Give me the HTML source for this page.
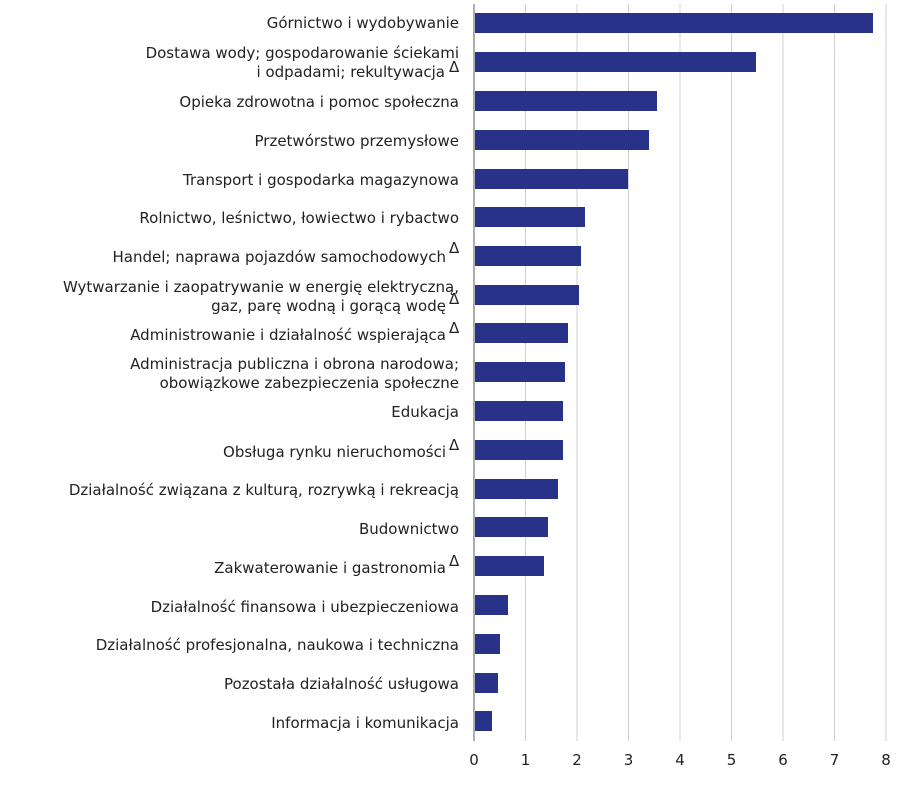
<!DOCTYPE html>
<html><head><meta charset="utf-8"><style>
body{margin:0;background:#fff}
svg text{font-family:"DejaVu Sans","Liberation Sans",sans-serif;font-size:15px;fill:#222}
</style></head><body>
<svg width="918" height="783" xmlns="http://www.w3.org/2000/svg">
<g stroke="#d0d0d0" stroke-width="1">
<line x1="525.5" y1="4" x2="525.5" y2="741"/><line x1="577" y1="4" x2="577" y2="741"/><line x1="628.5" y1="4" x2="628.5" y2="741"/><line x1="680" y1="4" x2="680" y2="741"/><line x1="731.5" y1="4" x2="731.5" y2="741"/><line x1="783" y1="4" x2="783" y2="741"/><line x1="834.5" y1="4" x2="834.5" y2="741"/><line x1="886" y1="4" x2="886" y2="741"/>
</g>
<g fill="#283289">
<rect x="475" y="13" width="398" height="20"/>
<rect x="475" y="52" width="281" height="20"/>
<rect x="475" y="91" width="182" height="20"/>
<rect x="475" y="130" width="174" height="20"/>
<rect x="475" y="169" width="153" height="20"/>
<rect x="475" y="207" width="110" height="20"/>
<rect x="475" y="246" width="106" height="20"/>
<rect x="475" y="285" width="104" height="20"/>
<rect x="475" y="323" width="93" height="20"/>
<rect x="475" y="362" width="90" height="20"/>
<rect x="475" y="401" width="88" height="20"/>
<rect x="475" y="440" width="88" height="20"/>
<rect x="475" y="479" width="83" height="20"/>
<rect x="475" y="517" width="73" height="20"/>
<rect x="475" y="556" width="69" height="20"/>
<rect x="475" y="595" width="33" height="20"/>
<rect x="475" y="634" width="25" height="20"/>
<rect x="475" y="673" width="23" height="20"/>
<rect x="475" y="711" width="17" height="20"/>
</g>
<line x1="474" y1="4" x2="474" y2="741" stroke="#777" stroke-width="1.2"/>
<g text-anchor="end">
<text x="459" y="28">Górnictwo i wydobywanie</text>
<text x="459" y="58">Dostawa wody; gospodarowanie ściekami</text>
<text x="445" y="77">i odpadami; rekultywacja</text>
<text x="459" y="107">Opieka zdrowotna i pomoc społeczna</text>
<text x="459" y="146">Przetwórstwo przemysłowe</text>
<text x="459" y="185">Transport i gospodarka magazynowa</text>
<text x="459" y="223">Rolnictwo, leśnictwo, łowiectwo i rybactwo</text>
<text x="446" y="262">Handel; naprawa pojazdów samochodowych</text>
<text x="459" y="292">Wytwarzanie i zaopatrywanie w energię elektryczną,</text>
<text x="446" y="311">gaz, parę wodną i gorącą wodę</text>
<text x="446" y="340">Administrowanie i działalność wspierająca</text>
<text x="459" y="369">Administracja publiczna i obrona narodowa;</text>
<text x="459" y="388">obowiązkowe zabezpieczenia społeczne</text>
<text x="459" y="417">Edukacja</text>
<text x="446" y="457">Obsługa rynku nieruchomości</text>
<text x="459" y="495">Działalność związana z kulturą, rozrywką i rekreacją</text>
<text x="459" y="534">Budownictwo</text>
<text x="446" y="573">Zakwaterowanie i gastronomia</text>
<text x="459" y="612">Działalność finansowa i ubezpieczeniowa</text>
<text x="459" y="650">Działalność profesjonalna, naukowa i techniczna</text>
<text x="459" y="689">Pozostała działalność usługowa</text>
<text x="459" y="728">Informacja i komunikacja</text>
</g>
<g style="font-size:13px">
<text x="449" y="72">Δ</text>
<text x="449" y="253">Δ</text>
<text x="449" y="304">Δ</text>
<text x="449" y="333">Δ</text>
<text x="449" y="450">Δ</text>
<text x="449" y="566">Δ</text>
</g>
<g text-anchor="middle">
<text x="474" y="765">0</text><text x="525.5" y="765">1</text><text x="577" y="765">2</text><text x="628.5" y="765">3</text><text x="680" y="765">4</text><text x="731.5" y="765">5</text><text x="783" y="765">6</text><text x="834.5" y="765">7</text><text x="886" y="765">8</text>
</g>
</svg>
</body></html>
